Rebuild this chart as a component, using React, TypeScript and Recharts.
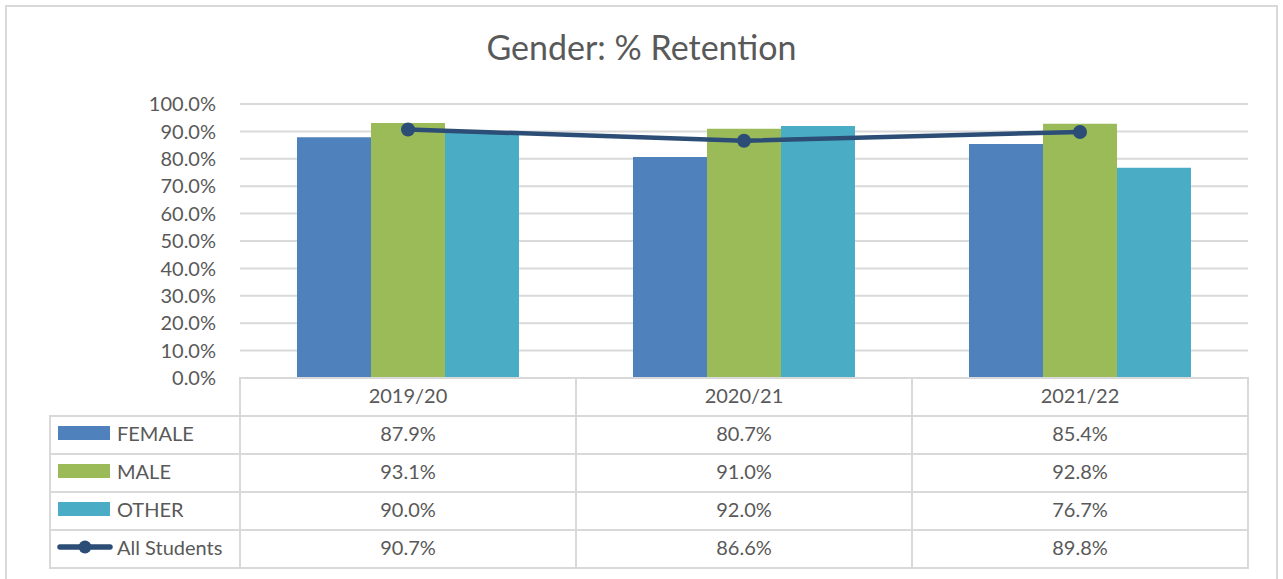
import React from "react";
import { ComposedChart, Bar, Line, XAxis, YAxis, CartesianGrid } from "recharts";

const YEARS = ["2019/20", "2020/21", "2021/22"];
const FEMALE = [87.9, 80.7, 85.4];
const MALE = [93.1, 91.0, 92.8];
const OTHER = [90.0, 92.0, 76.7];
const ALL_STUDENTS = [90.7, 86.6, 89.8];
const Y_TICKS = [0, 10, 20, 30, 40, 50, 60, 70, 80, 90, 100];

const C_FEMALE = "#4f81bd";
const C_MALE = "#9bbb59";
const C_OTHER = "#4bacc6";
const C_ALL = "#2c4d75";
const GRID = "#d9d9d9";
const TEXT = "#595959";
const FONT = "Lato, 'Open Sans', sans-serif";

const W = 1283;
const H = 579;
const PLOT_L = 240;
const PLOT_R = 1248;
const PLOT_T = 104;
const PLOT_B = 378;
const HEAD_H = 38;
const ROW_H = 38;
const LEG_L = 50;

const data = YEARS.map((y, i) => ({
  year: y,
  female: FEMALE[i],
  male: MALE[i],
  other: OTHER[i],
  all: ALL_STUDENTS[i],
}));

const rows = [
  { name: "FEMALE", color: C_FEMALE, values: FEMALE, kind: "bar" },
  { name: "MALE", color: C_MALE, values: MALE, kind: "bar" },
  { name: "OTHER", color: C_OTHER, values: OTHER, kind: "bar" },
  { name: "All Students", color: C_ALL, values: ALL_STUDENTS, kind: "line" },
];

const fmt = (v: number) => `${v.toFixed(1)}%`;

function Cell({ left, top, width, height, children, align = "center" }: any) {
  return (
    <div
      style={{
        position: "absolute",
        left,
        top,
        width,
        height,
        boxSizing: "border-box",
        border: `2px solid ${GRID}`,
        marginLeft: -1,
        marginTop: -1,
        paddingBottom: 4,
        display: "flex",
        alignItems: "center",
        justifyContent: align === "left" ? "flex-start" : "center",
        fontSize: 20,
        color: TEXT,
        fontFamily: FONT,
      }}
    >
      {children}
    </div>
  );
}

function LegendKey({ color, kind }: { color: string; kind: string }) {
  if (kind === "line") {
    return (
      <svg width={56} height={16} style={{ marginLeft: 6, marginRight: 4 }}>
        <line x1={3} y1={8} x2={53} y2={8} stroke={color} strokeWidth={5.5} strokeLinecap="round" />
        <circle cx={28} cy={8} r={6.5} fill={color} />
      </svg>
    );
  }
  return <div style={{ width: 52, height: 14, background: color, marginLeft: 7, marginRight: 7 }} />;
}

export default function App() {
  const colW = (PLOT_R - PLOT_L) / YEARS.length;
  return (
    <div style={{ position: "absolute", left: 0, top: 0, width: W, height: H, background: "#fff", overflow: "hidden" }}>
      <div
        style={{
          position: "absolute",
          left: 5,
          top: 5,
          width: W - 10,
          height: H + 10,
          boxSizing: "border-box",
          border: `2px solid ${GRID}`,
        }}
      />
      <div
        style={{
          position: "absolute",
          left: 0,
          top: 26,
          width: W,
          textAlign: "center",
          fontFamily: FONT,
          fontSize: 34,
          color: TEXT,
        }}
      >
        Gender: % Retention
      </div>
      <div style={{ position: "absolute", left: 0, top: 0 }}>
        <ComposedChart
          width={W}
          height={H}
          data={data}
          margin={{ top: PLOT_T, right: W - PLOT_R, bottom: H - PLOT_B, left: 0 }}
          barGap={0}
        >
          <CartesianGrid vertical={false} stroke={GRID} strokeWidth={2} />
          <XAxis dataKey="year" hide />
          <YAxis
            width={PLOT_L}
            domain={[0, 100]}
            ticks={Y_TICKS}
            interval={0}
            tickFormatter={fmt}
            axisLine={false}
            tickLine={false}
            tickSize={0}
            tickMargin={24}
            tick={{ fill: TEXT, fontSize: 20, fontFamily: FONT }}
          />
          <Bar dataKey="female" fill={C_FEMALE} barSize={74} isAnimationActive={false} />
          <Bar dataKey="male" fill={C_MALE} barSize={74} isAnimationActive={false} />
          <Bar dataKey="other" fill={C_OTHER} barSize={74} isAnimationActive={false} />
          <Line
            type="linear"
            dataKey="all"
            stroke={C_ALL}
            strokeWidth={4.5}
            dot={{ r: 7, fill: C_ALL, stroke: C_ALL, strokeWidth: 0 }}
            isAnimationActive={false}
          />
        </ComposedChart>
      </div>
      {YEARS.map((y, i) => (
        <Cell key={y} left={PLOT_L + i * colW} top={PLOT_B} width={colW + 2} height={HEAD_H + 2}>
          {y}
        </Cell>
      ))}
      {rows.map((r, ri) => {
        const top = PLOT_B + HEAD_H + ri * ROW_H;
        return (
          <React.Fragment key={r.name}>
            <Cell left={LEG_L} top={top} width={PLOT_L - LEG_L + 2} height={ROW_H + 2} align="left">
              <LegendKey color={r.color} kind={r.kind} />
              {r.name}
            </Cell>
            {r.values.map((v, i) => (
              <Cell key={i} left={PLOT_L + i * colW} top={top} width={colW + 2} height={ROW_H + 2}>
                {fmt(v)}
              </Cell>
            ))}
          </React.Fragment>
        );
      })}
    </div>
  );
}
